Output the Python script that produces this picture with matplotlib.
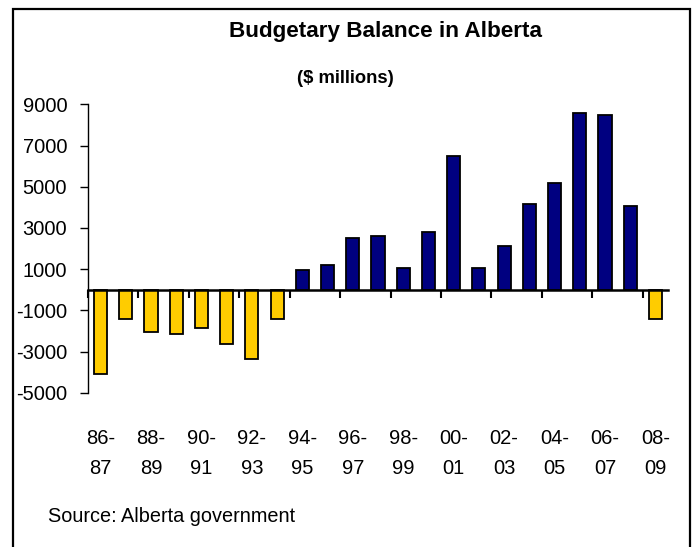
import matplotlib
matplotlib.use("Agg")
import matplotlib.pyplot as plt
from matplotlib.patches import Rectangle
from matplotlib import font_manager
import numpy as np

years = ["86-87", "87-88", "88-89", "89-90", "90-91", "91-92", "92-93", "93-94",
         "94-95", "95-96", "96-97", "97-98", "98-99", "99-00", "00-01", "01-02",
         "02-03", "03-04", "04-05", "05-06", "06-07", "07-08", "08-09"]
balance = [-4100, -1400, -2050, -2150, -1850, -2650, -3350, -1400,
           950, 1200, 2500, 2600, 1050, 2800, 6500, 1050,
           2100, 4150, 5200, 8600, 8500, 4050, -1400]
yticks = [9000, 7000, 5000, 3000, 1000, -1000, -3000, -5000]

names = {f.name for f in font_manager.fontManager.ttflist}
fam = "Liberation Sans Narrow" if "Liberation Sans Narrow" in names else "Liberation Sans"
plt.rcParams["font.family"] = [fam, "DejaVu Sans"]

fig = plt.figure(figsize=(6.94, 5.47), dpi=100)
ax = fig.add_axes([88/694, 1-392.7/547, (668-88)/694, (392.7-104.3)/547])

x = np.arange(len(years))
colors = ["#FFCC00" if v < 0 else "#000080" for v in balance]
ax.bar(x, balance, width=0.52, color=colors, edgecolor="black", linewidth=1.3, zorder=3)

ax.set_xlim(-0.5, len(years) - 0.5)
ax.set_ylim(-5000, 9000)
ax.set_yticks(yticks)
ax.set_yticklabels([str(t) for t in yticks], fontsize=14.5)
ax.tick_params(axis="y", direction="out", length=6, width=1, pad=9, color="black")

for s in ["top", "right"]:
    ax.spines[s].set_visible(False)
ax.spines["left"].set_linewidth(1)
ax.spines["bottom"].set_position(("data", 0))
ax.spines["bottom"].set_linewidth(1.8)
ax.spines["bottom"].set_zorder(4)

bounds = np.arange(-0.5, len(years) - 1, 2)
ax.set_xticks(bounds)
ax.set_xticklabels([])
ax.tick_params(axis="x", direction="out", length=6, width=1.5, color="black")

sec = ax.secondary_xaxis("bottom")
sec.spines["bottom"].set_visible(False)
pos = x[::2]
sec.set_xticks(pos)
sec.set_xticklabels([years[i].replace("-", "-\n") for i in pos], fontsize=14.5,
                    linespacing=1.75)
sec.tick_params(axis="x", length=0, pad=26)

fig.text(0.555, 0.943, "Budgetary Balance in Alberta", ha="center", va="center",
         fontsize=16.2, fontweight="bold")
fig.text(0.498, 0.856, "($ millions)", ha="center", va="center",
         fontsize=13.2, fontweight="bold")
fig.text(48/694, 1-516/547, "Source: Alberta government", ha="left", va="center",
         fontsize=14.3)

fig.patches.append(Rectangle((13/694, -0.05), (690-13)/694, 1.05 - 9/547,
                             transform=fig.transFigure, fill=False,
                             edgecolor="black", linewidth=1.6))

fig.savefig("out.png", dpi=100)
